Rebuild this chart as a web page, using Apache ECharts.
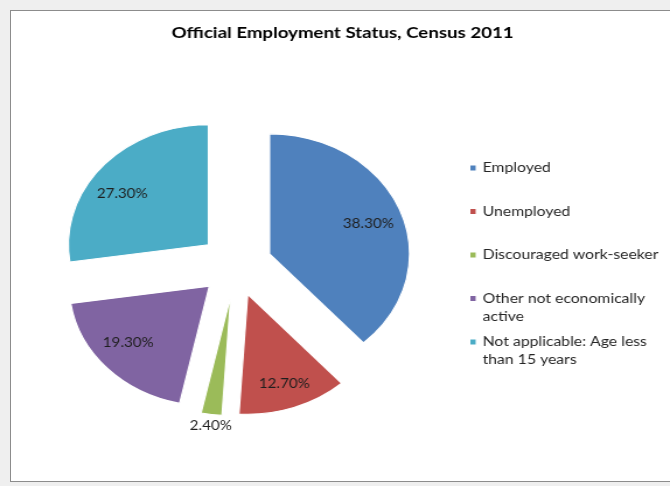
<!DOCTYPE html>
<html>
<head>
<meta charset="utf-8">
<script src="https://cdn.jsdelivr.net/npm/echarts@6/dist/echarts.min.js"></script>
<style>
  html, body { margin: 0; padding: 0; }
  body { width: 670px; height: 486px; background: #efefef; position: relative; overflow: hidden; }
  #frame { position: absolute; left: 10px; top: 10px; width: 700px; height: 472px;
           background: #fff; border: 1px solid #8c8c8c; box-sizing: border-box; }
  /* the chart is laid out at 574px wide and stretched to fill the 670px page */
  #chart { position: absolute; left: 0; top: 0; width: 574px; height: 486px;
           transform: scaleX(1.1672); transform-origin: 0 0; }
</style>
</head>
<body>
<div id="frame"></div>
<div id="chart"></div>
<script>
const categories = ['Employed', 'Unemployed', 'Discouraged work-seeker', 'Other not economically active', 'Not applicable: Age less than 15 years'];
const legendText = ['Employed', 'Unemployed', 'Discouraged work-seeker', 'Other not economically\nactive', 'Not applicable: Age less\nthan 15 years'];
const shares = [38.3, 12.7, 2.4, 19.3, 27.3];
const colors = ['#4F81BD', '#C0504D', '#9BBB59', '#8064A2', '#4BACC6'];

// small per-slice nudges for the percentage labels (the thin slice's label sits below it)
const labelNudge = [[-4, 4], [0, 0], [-4, 36], [0, -8], [-2, 11]];

const FONT = 'Lato, "Open Sans", sans-serif';
const center = [202, 265];
const explode = 31;

const sliceData = categories.map((name, i) => ({
  name, value: shares[i], selected: true, itemStyle: { color: colors[i] }
}));
const labelData = categories.map((name, i) => ({
  name, value: shares[i], selected: true
}));

const chart = echarts.init(document.getElementById('chart'), null, { renderer: 'canvas' });
chart.setOption({
  animation: false,
  backgroundColor: 'transparent',
  title: {
    text: 'Official Employment Status, Census 2011',
    left: 147,
    top: 25,
    padding: 0,
    textStyle: { fontFamily: FONT, fontSize: 16, fontWeight: 'bold', color: '#000' }
  },
  legend: {
    orient: 'vertical',
    left: 401,
    top: 141,
    padding: 0,
    itemGap: -10.5,
    itemWidth: 6.5,
    itemHeight: 7,
    icon: 'rect',
    selectedMode: false,
    data: categories,
    formatter: function (name) {
      const t = legendText[categories.indexOf(name)];
      // keep every entry three lines tall so the marker sits on the first text line
      return t.indexOf('\n') >= 0 ? '\n' + t : '\n' + t + '\n';
    },
    textStyle: { fontFamily: FONT, fontSize: 13.5, lineHeight: 18, color: '#262626' }
  },
  series: [
    {
      type: 'pie',
      center: center,
      radius: [0, 120],
      startAngle: 90,
      clockwise: true,
      selectedMode: 'multiple',
      selectedOffset: explode,
      avoidLabelOverlap: false,
      silent: true,
      label: { show: false },
      labelLine: { show: false },
      itemStyle: { borderColor: '#ffffff', borderWidth: 1.2 },
      emphasis: { disabled: true },
      data: sliceData
    },
    {
      // transparent ring that carries the percentage labels
      type: 'pie',
      center: center,
      radius: [80, 104],
      startAngle: 90,
      clockwise: true,
      selectedMode: 'multiple',
      selectedOffset: explode,
      avoidLabelOverlap: false,
      silent: true,
      legendHoverLink: false,
      itemStyle: { color: 'rgba(0,0,0,0)', borderWidth: 0 },
      emphasis: { disabled: true },
      label: {
        show: true,
        position: 'inside',
        fontFamily: FONT,
        fontSize: 13,
        color: '#1e1e1e',
        formatter: p => p.value.toFixed(2) + '%'
      },
      labelLine: { show: false },
      labelLayout: function (p) {
        const n = labelNudge[p.dataIndex];
        return { dx: n[0], dy: n[1] };
      },
      data: labelData
    }
  ]
});
</script>
</body>
</html>
